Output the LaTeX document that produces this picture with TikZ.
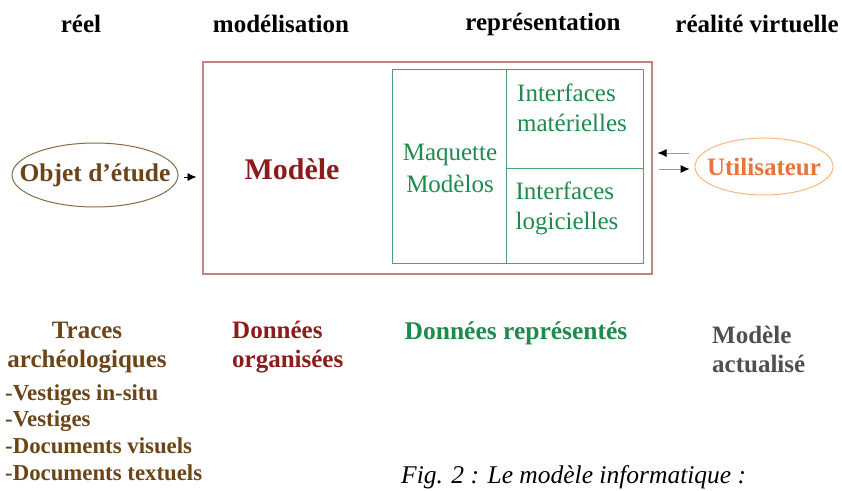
\documentclass[tikz,border=0pt]{standalone}
\usepackage{fontspec}
\setmainfont{Liberation Serif}
\usepackage{tikz}
\usetikzlibrary{positioning, shapes.geometric, arrows.meta}

\definecolor{brun}{HTML}{6B4418}
\definecolor{bordeaux}{HTML}{8B1C1C}
\definecolor{rose}{HTML}{C08585}
\definecolor{vert}{HTML}{1E8A4C}
\definecolor{orange}{HTML}{E8743A}
\definecolor{orangeclair}{HTML}{F2B880}
\definecolor{gris}{HTML}{4F4F4F}

\begin{document}
\begin{tikzpicture}[
    x=1pt, y=-1pt,
    txt/.style = {inner sep=0pt, font=\fontsize{25}{29}\selectfont#1},
    txt/.default = \bfseries
    ]
            % styles
            \tikzstyle{arrow} = [line width=0.8pt,-{Latex[length=9pt,width=8pt,black]},draw=gray!80]
            \tikzstyle{cadre} = [draw, line width=1.2pt, inner sep=0pt]
            \tikzstyle{bulle} = [ellipse, line width=1pt, inner xsep=-20pt, inner ysep=0pt]
            \useasboundingbox (0,0) rectangle (842,490);

            % titres des colonnes
            \node (reel) [txt] at (81,24) {réel};
            \node (modelisation) [txt] at (281,24) {modélisation};
            \node (representation) [txt] at (543,24) {représentation};
            \node (realite) [txt] at (757,24) {réalité virtuelle};

            % cadre du modele
            \node (modele) [cadre, draw=rose, minimum width=449pt, minimum height=212pt] at (427.5,168) {};
            \node (vitrine) [cadre, draw=vert!80, line width=1pt, minimum width=251pt, minimum height=194pt] at (517.5,166) {};
            \draw [vert!80, line width=1pt] (506,69) -- (506,263);
            \draw [vert!80, line width=1pt] (506,168) -- (643,168);

            \node (titre) [txt, text=bordeaux, font=\fontsize{30}{34}\selectfont\bfseries] at (292,169) {Modèle};
            \node (maquette) [txt=\mdseries, text=vert, align=center, font=\fontsize{25}{32}\selectfont] at (450,168) {Maquette\\Modèlos};
            \node (materiel) [txt=\mdseries, text=vert, align=left, font=\fontsize{25}{30}\selectfont] at (572,108) {Interfaces\\matérielles};
            \node (logiciel) [txt=\mdseries, text=vert, align=left, font=\fontsize{25}{30}\selectfont] at (567,208) {Interfaces\\logicielles};

            % acteurs
            \node (objet) [txt, bulle, draw=brun!80, minimum width=166pt, minimum height=64pt,
                           text=brun, font=\fontsize{25.5}{29}\selectfont\bfseries] at (95,175) {Objet d’étude};
            \node (user) [txt, bulle, draw=orangeclair, minimum width=138pt, minimum height=57pt,
                          text=orange] at (764,166.5) {Utilisateur};

            \draw [arrow, draw=black] ([xshift=5pt,yshift=-2pt]objet.east) -- ++(13,0);
            \draw [arrow] ([xshift=-6pt,yshift=13.5pt]user.west) -- ++(-31,0);
            \draw [arrow] ([xshift=6pt,yshift=-1pt]modele.east) -- ++(31,0);

            % donnees
            \node (traces) [txt, text=brun, align=center] at (87,348) {Traces\\archéologiques};
            \node (liste) [txt, text=brun, anchor=north west, align=left, font=\fontsize{22.8}{26.7}\selectfont\bfseries]
                  at (5,384) {-Vestiges in-situ\\-Vestiges\\-Documents visuels\\-Documents textuels};
            \node (organisees) [txt, text=bordeaux, anchor=west, align=left] at (232,347) {Données\\organisées};
            \node (representes) [txt, text=vert, font=\fontsize{25.5}{29}\selectfont\bfseries] at (516,333) {Données représentés};
            \node (actualise) [txt, text=gris, anchor=west, align=left] at (712,349) {Modèle\\actualisé};

            \node (legende) [txt=\itshape, anchor=west, font=\fontsize{25.5}{28}\selectfont\itshape] at (401,477) {Fig. 2 : Le modèle informatique :};
    \end{tikzpicture}
\end{document}
